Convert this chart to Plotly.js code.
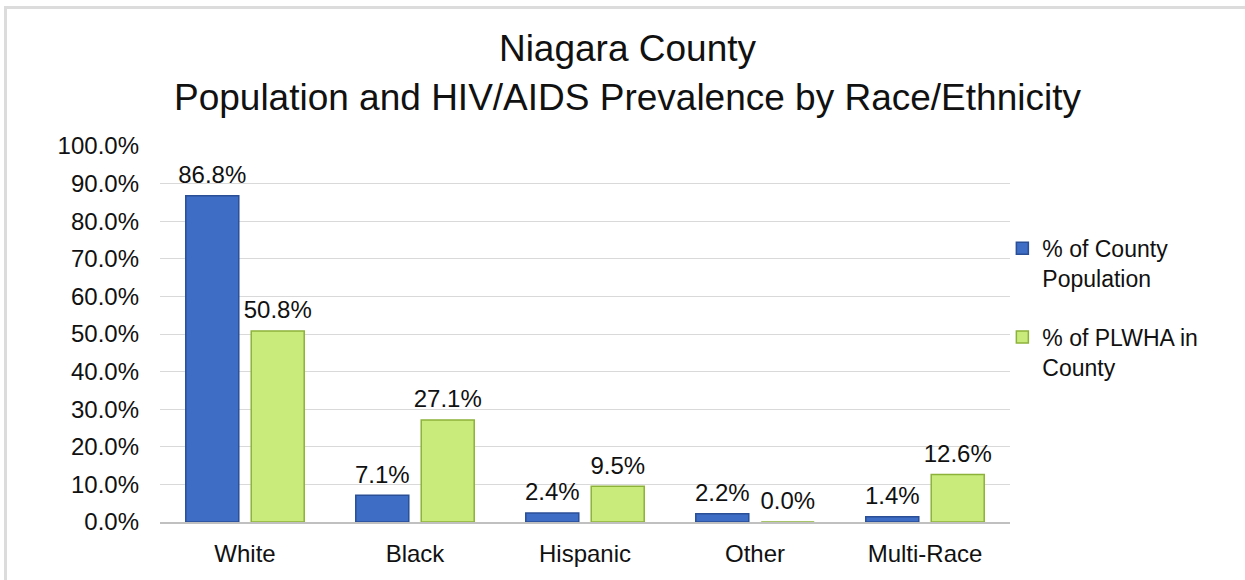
<!DOCTYPE html>
<html>
<head>
<meta charset="utf-8">
<script src="https://cdn.plot.ly/plotly-3.0.1.min.js"></script>
<style>
  html, body { margin: 0; padding: 0; background: #fff; }
  #frame { position: absolute; left: 4px; top: 6px; width: 1260px; height: 600px; border: 3px solid #dcdcdc; box-sizing: border-box; }
  #chart { position: absolute; left: 0; top: 0; width: 1245px; height: 580px; }
</style>
</head>
<body>
<div id="frame"></div>
<div id="chart"></div>
<script>
const categories = ["White", "Black", "Hispanic", "Other", "Multi-Race"];
const countyPopulation = [86.8, 7.1, 2.4, 2.2, 1.4];
const plwhaInCounty = [50.8, 27.1, 9.5, 0.0, 12.6];
const seriesNames = ["% of County<br>Population", "% of PLWHA in<br>County"];
const yTickValues = [0, 10, 20, 30, 40, 50, 60, 70, 80, 90, 100];
const yTickLabels = ["0.0%", "10.0%", "20.0%", "30.0%", "40.0%", "50.0%", "60.0%", "70.0%", "80.0%", "90.0%", "100.0%"];

const FONT = "Liberation Sans, Arial, sans-serif";
const textFont = { family: FONT, size: 24, color: "#111" };

function barTrace(name, values, group, color, lineColor) {
  return {
    type: "bar", name: name, x: categories, y: values,
    legendgroup: group, offsetgroup: group,
    marker: { color: color, line: { color: lineColor, width: 1.5 } },
    hoverinfo: "skip"
  };
}
function labelTrace(values, group) {
  return {
    type: "scatter", mode: "markers+text", x: categories, y: values,
    text: values.map(v => v.toFixed(1) + "%"),
    textposition: "top center", textfont: textFont,
    offsetgroup: group, showlegend: false, cliponaxis: false,
    marker: { size: 9, color: "rgba(0,0,0,0)", line: { width: 0 } }, hoverinfo: "skip"
  };
}

const traces = [
  barTrace(seriesNames[0], countyPopulation, "a", "#3e6dc5", "#2a4f96"),
  barTrace(seriesNames[1], plwhaInCounty, "b", "#c8eb7c", "#8db23a"),
  labelTrace(countyPopulation, "a"),
  labelTrace(plwhaInCounty, "b")
];

const layout = {
  width: 1245, height: 580,
  margin: { l: 160, r: 235, t: 146, b: 58 },
  paper_bgcolor: "rgba(0,0,0,0)", plot_bgcolor: "rgba(0,0,0,0)",
  font: { family: FONT, color: "#111" },
  title: {
    text: "Niagara County<br>Population and HIV/AIDS Prevalence by Race/Ethnicity",
    font: { family: FONT, size: 37, color: "#111" },
    x: 0.504, xref: "container", xanchor: "center",
    y: 0.894, yref: "container", yanchor: "middle"
  },
  barmode: "group", bargap: 0.23, bargroupgap: 0.19,
  scattermode: "group", scattergap: 0.23,
  xaxis: {
    tickfont: textFont, showgrid: false, showline: true, linecolor: "#c0c0c0", linewidth: 1.5,
    ticks: "", ticklabelstandoff: 10, fixedrange: true
  },
  yaxis: {
    range: [0, 100], tickvals: yTickValues, ticktext: yTickLabels, tickfont: textFont,
    showgrid: true, gridcolor: "#d9d9d9", gridwidth: 1, zeroline: false, showline: false,
    ticks: "", ticklabelstandoff: 20, fixedrange: true
  },
  showlegend: true,
  legend: {
    x: 0.991, xanchor: "left", y: 0.785, yanchor: "top",
    font: { family: FONT, size: 23, color: "#111" },
    traceorder: "grouped", tracegroupgap: 26, itemwidth: 30, valign: "top",
    bgcolor: "rgba(0,0,0,0)"
  }
};

Plotly.newPlot("chart", traces, layout, { displayModeBar: false, staticPlot: true });
</script>
</body>
</html>
